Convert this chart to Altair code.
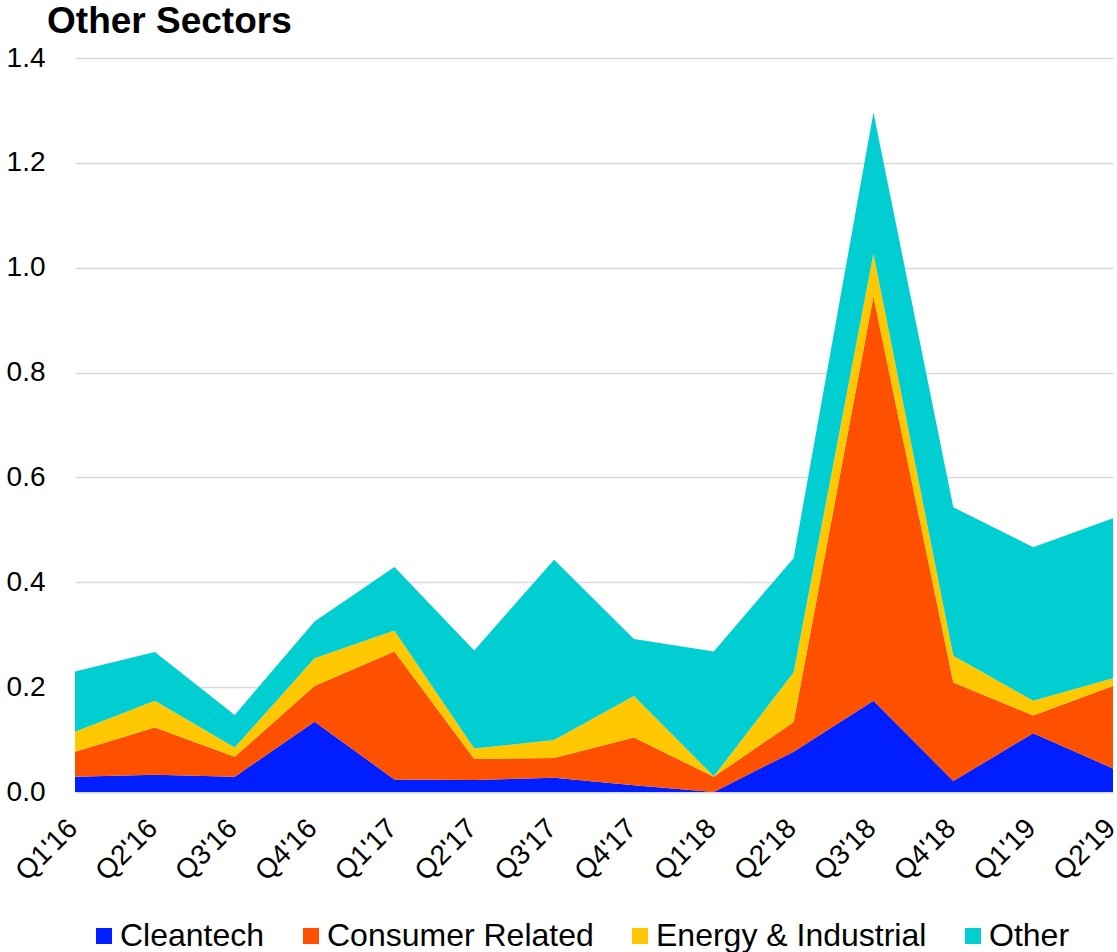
import altair as alt
import pandas as pd

quarters = ["Q1'16", "Q2'16", "Q3'16", "Q4'16", "Q1'17", "Q2'17", "Q3'17",
            "Q4'17", "Q1'18", "Q2'18", "Q3'18", "Q4'18", "Q1'19", "Q2'19"]
series = ["Cleantech", "Consumer Related", "Energy & Industrial", "Other"]
colors = ["#001EFF", "#FF5000", "#FFC800", "#00CED1"]

cleantech = [0.029, 0.033, 0.029, 0.134, 0.024, 0.023, 0.027, 0.013, 0.000, 0.077, 0.174, 0.021, 0.112, 0.045]
consumer = [0.048, 0.090, 0.038, 0.068, 0.244, 0.040, 0.038, 0.091, 0.029, 0.056, 0.771, 0.188, 0.034, 0.157]
energy = [0.038, 0.051, 0.018, 0.053, 0.040, 0.020, 0.034, 0.079, 0.001, 0.095, 0.082, 0.051, 0.028, 0.015]
other = [0.115, 0.093, 0.062, 0.070, 0.121, 0.187, 0.344, 0.109, 0.238, 0.218, 0.269, 0.283, 0.293, 0.305]

values = [cleantech, consumer, energy, other]
rows = []
for si, (name, vals) in enumerate(zip(series, values)):
    for q, v in zip(quarters, vals):
        rows.append({"Quarter": q, "Sector": name, "Value": v, "order": si})
df = pd.DataFrame(rows)

FONT = "Liberation Sans"

chart = alt.Chart(df).mark_area(opacity=1, line=False).encode(
    x=alt.X("Quarter:N", sort=quarters, scale=alt.Scale(type="point", padding=0),
            axis=alt.Axis(title=None, labelAngle=-45, labelFontSize=28, labelFont=FONT,
                          labelColor="black", ticks=False, domain=True, domainColor="#d9d9d9",
                          domainWidth=2, labelPadding=22, labelOffset=-12, grid=False,
                          labelOverlap=False)),
    y=alt.Y("Value:Q", stack="zero", scale=alt.Scale(domain=[0, 1.4], nice=False),
            axis=alt.Axis(title=None, values=[0, 0.2, 0.4, 0.6, 0.8, 1.0, 1.2, 1.4], format=".1f",
                          labelFontSize=28, labelFont=FONT, labelColor="black", ticks=False,
                          domain=False, grid=True, gridColor="#d9d9d9", gridWidth=1.5,
                          labelPadding=30)),
    color=alt.Color("Sector:N", sort=series,
                    scale=alt.Scale(domain=series, range=colors),
                    legend=alt.Legend(title=None, orient="none", direction="horizontal",
                                      legendX=13, legendY=862, symbolType="square",
                                      symbolSize=256, symbolStrokeWidth=0, labelFontSize=32,
                                      labelFont=FONT, labelColor="black", columnPadding=30,
                                      labelOffset=0, labelLimit=400)),
    order=alt.Order("order:Q", sort="ascending"),
).properties(
    width=1038,
    height=734,
    title=alt.TitleParams("Other Sectors", anchor="start", dx=41, offset=3, fontSize=37,
                          fontWeight="bold", font=FONT, color="black"),
    autosize=alt.AutoSizeParams(type="none"),
    padding={"left": 75, "top": 58, "right": 4, "bottom": 160},
).configure_view(stroke=None)

chart.save("out.html", embed_options={"renderer": "svg", "actions": False})
